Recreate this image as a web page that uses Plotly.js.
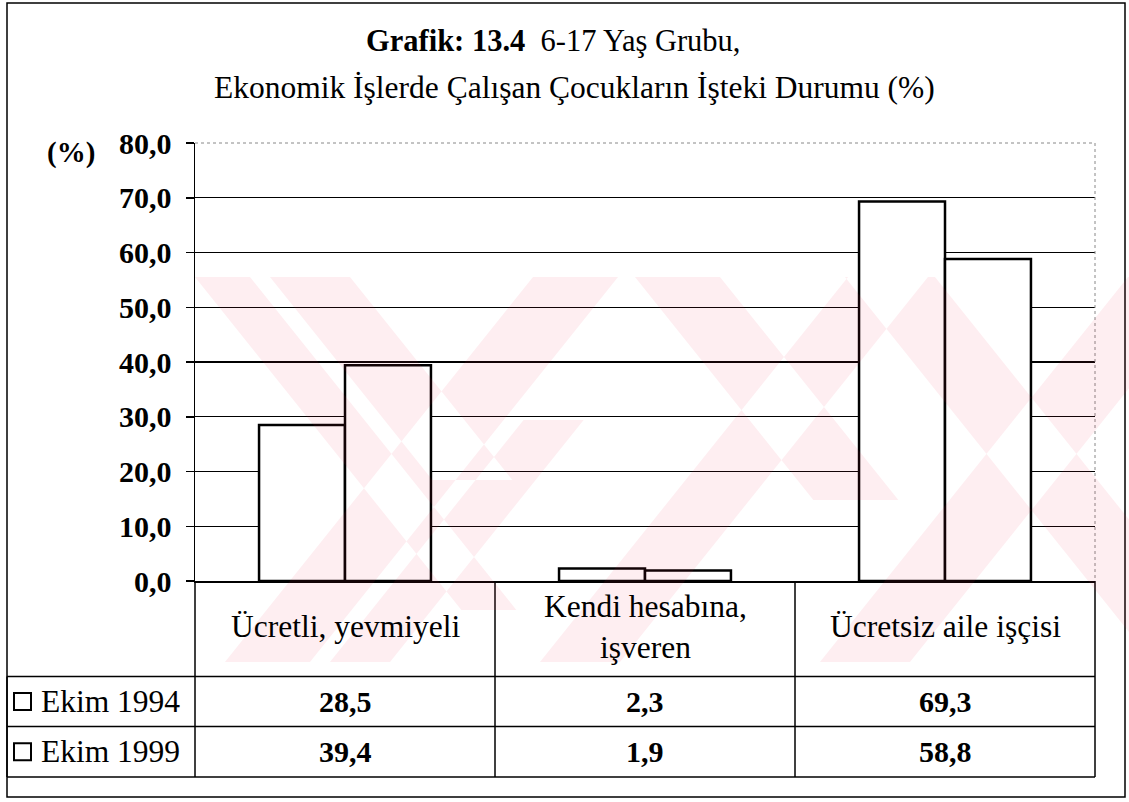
<!DOCTYPE html>
<html>
<head>
<meta charset="utf-8">
<script src="https://cdn.plot.ly/plotly-3.0.1.min.js"></script>
<style>html,body{margin:0;padding:0;background:#fff;}#chart{width:1129px;height:802px;}</style>
</head>
<body>
<div id="chart"></div>
<script>
// ---- data ----
const categories = ['Ücretli, yevmiyeli', 'Kendi hesabına,<br>işveren', 'Ücretsiz aile işçisi'];
const seriesNames = ['Ekim 1994', 'Ekim 1999'];
const values1994 = [28.5, 2.3, 69.3];
const values1999 = [39.4, 1.9, 58.8];
const yTickValues = [0, 10, 20, 30, 40, 50, 60, 70, 80];
const titleLine1 = '<b>Grafik: 13.4</b>  6-17 Yaş Grubu,';
const titleLine2 = 'Ekonomik İşlerde Çalışan Çocukların İşteki Durumu (%)';
const yUnitLabel = '<b>(%)</b>';

// ---- layout geometry (pixels) ----
const W = 1129, H = 802;
const PL = 195, PR = 1095, PT = 143, PB = 581;
const px = x => (x - PL) / (PR - PL);
const py = y => (PB - y) / (PB - PT);
const FONT = '"Liberation Serif", serif';
const fmt = v => v.toFixed(1).replace('.', ',');

const traces = [
  {type: 'bar', name: seriesNames[0], x: categories, y: values1994,
   marker: {color: '#ffffff', line: {color: '#000', width: 2.5}}, hoverinfo: 'y'},
  {type: 'bar', name: seriesNames[1], x: categories, y: values1999,
   marker: {color: '#ffffff', line: {color: '#000', width: 2.5}}, hoverinfo: 'y'}
];

const shapes = [];
const annotations = [];
const line = (x0, y0, x1, y1, w, color, dash) => shapes.push({
  type: 'line', xref: 'paper', yref: 'paper', x0: px(x0), y0: py(y0), x1: px(x1), y1: py(y1),
  line: {color: color || '#000', width: w || 1.5, dash: dash || 'solid'}, layer: 'above'});

// outer frame
shapes.push({type: 'rect', xref: 'paper', yref: 'paper', x0: px(7), y0: py(3), x1: px(1125), y1: py(797),
  line: {color: '#000', width: 1.5}, layer: 'below'});
// top / right plot border (faint dotted)
line(PL, PT, PR, PT, 1, '#888', 'dot');
line(PR, PT, PR, PB, 1, '#888', 'dot');

// data table grid
const colX = [PL, 495, 795, PR];
const rowY = [PB, 676.5, 726.5, 777];
line(7, rowY[1], PR, rowY[1]);
line(7, rowY[2], PR, rowY[2]);
line(7, rowY[3], PR, rowY[3]);
line(7, rowY[1], 7, rowY[3]);
line(PL, PB, PL, rowY[3]);
colX.slice(1).forEach(x => line(x, PB, x, rowY[3]));

const txt = (x, y, text, size, anchor) => annotations.push({xref: 'paper', yref: 'paper', x: px(x), y: py(y),
  text: text, showarrow: false, xanchor: anchor || 'center', yanchor: 'middle',
  font: {family: FONT, size: size, color: '#000'}});

// header labels
categories.forEach((c, i) => txt((colX[i] + colX[i + 1]) / 2, (rowY[0] + rowY[1]) / 2 - 2, c, 31.5));
// rows
[values1994, values1999].forEach((vals, r) => {
  const yc = (rowY[r + 1] + rowY[r + 2]) / 2;
  shapes.push({type: 'rect', xref: 'paper', yref: 'paper', x0: px(14), x1: px(31), y0: py(yc - 8.5), y1: py(yc + 8.5),
    line: {color: '#000', width: 2}, fillcolor: '#fff', layer: 'above'});
  txt(39, yc, seriesNames[r], 31.5, 'left');
  vals.forEach((v, i) => txt((colX[i] + colX[i + 1]) / 2, yc, '<b>' + fmt(v) + '</b>', 30));
});

// titles
txt(553, 41, titleLine1, 30.5);
txt(574, 87, titleLine2, 31.5);
txt(71, 152, yUnitLabel, 29);

// watermark (very light pink diagonal bands, single path so overlaps stay uniform)
const T = 277, B = 662, S = 0.8;
const polys = [];
const down = (xTop, w, yEnd) => polys.push([[xTop, T], [xTop + w, T], [xTop + w + S * (yEnd - T), yEnd], [xTop + S * (yEnd - T), yEnd]]);
const up = (xBot, w, yEnd) => polys.push([[xBot, B], [xBot + S * (B - yEnd), yEnd], [xBot + w + S * (B - yEnd), yEnd], [xBot + w, B]]);
down(195, 55, 610);
down(270, 80, 480);
up(225, 85, T);
up(330, 60, 420);
up(540, 80, T);
down(635, 85, 500);
down(845, 90, B);
up(820, 90, T);
const wmPath = polys.map(p => 'M' + p.map(q => px(q[0]).toFixed(5) + ',' + py(q[1]).toFixed(5)).join(' L') + ' Z').join(' ');
shapes.push({type: 'path', xref: 'paper', yref: 'paper', path: wmPath,
  fillcolor: '#ee2a52', opacity: 0.08, line: {width: 0}, layer: 'above'});

const layout = {
  width: W, height: H,
  margin: {l: PL, r: W - PR, t: PT, b: H - PB, pad: 0},
  paper_bgcolor: '#fff', plot_bgcolor: '#fff',
  separators: ',.',
  showlegend: false,
  barmode: 'group', bargap: 0.427, bargroupgap: 0,
  font: {family: FONT, color: '#000'},
  xaxis: {type: 'category', showticklabels: false, ticks: '', showgrid: false, showline: true,
    linecolor: '#000', linewidth: 1.5, zeroline: false, fixedrange: true},
  yaxis: {range: [0, 80], tickvals: yTickValues, tickformat: '.1f', ticks: 'outside', ticklen: 8,
    tickwidth: 1.5, tickcolor: '#000', showline: true, linecolor: '#000', linewidth: 1.5,
    showgrid: true, gridcolor: '#000', gridwidth: 1.3, zeroline: false, ticklabelstandoff: 8,
    tickfont: {family: FONT, size: 30, color: '#000', weight: 'bold'}, fixedrange: true},
  shapes: shapes,
  annotations: annotations
};

Plotly.newPlot('chart', traces, layout, {displayModeBar: false, staticPlot: true});
</script>
</body>
</html>
